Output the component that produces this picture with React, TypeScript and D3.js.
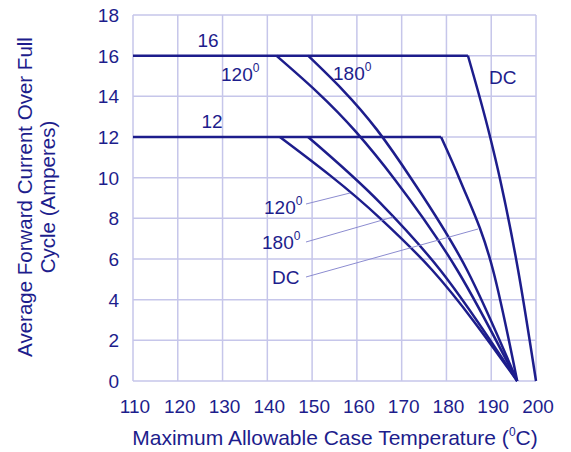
import * as d3 from "d3";

// chart values
const xTicks = [110, 120, 130, 140, 150, 160, 170, 180, 190, 200];
const yTicks = [0, 2, 4, 6, 8, 10, 12, 14, 16, 18];

// [temperature, amperes] along each falling part, starting at the knee
const a16_120 = [[142, 16], [159.8, 12.25], [168.5, 9.9], [182.4, 5.46], [195.8, 0]];
const a16_180 = [[149.1, 16], [164.5, 12.35], [172.3, 9.9], [184.6, 5.46], [195.8, 0]];
const a16_dc = [[184.8, 16], [189.7, 12.05], [192.0, 9.9], [196.0, 5.46], [200, 0]];
const a12_120 = [[142.8, 12], [165.2, 8.0], [176.8, 5.46], [195.8, 0]];
const a12_180 = [[149.1, 12], [165.2, 8.76], [178.6, 5.46], [195.8, 0]];
const a12_dc = [[178.8, 12], [183.0, 9.9], [190.4, 5.46], [195.8, 0]];

const curves = [a16_120, a16_180, a16_dc, a12_120, a12_180, a12_dc];

const W = 571;
const H = 452;
const navy = "#1d1d8c";
const grid = "#c6c6ea";
const font = "'Liberation Sans', Arial, sans-serif";
const fs = 19;

const x = d3.scaleLinear().domain([110, 200]).range([133, 536]);
const y = d3.scaleLinear().domain([0, 18]).range([381, 15]);

const line = d3
  .line<number[]>()
  .x((d) => x(d[0]))
  .y((d) => y(d[1]))
  .curve(d3.curveMonotoneX);

function Deg({ t, xx, yy }: { t: string; xx: number; yy: number }) {
  return (
    <text x={xx} y={yy} fill={navy} fontSize={fs} fontFamily={font}>
      {t}
      <tspan fontSize={12} dy={-9}>0</tspan>
    </text>
  );
}

export default function App() {
  return (
    <svg
      width={W}
      height={H}
      style={{ position: "absolute", left: 0, top: 0, background: "#fff" }}
    >
      {/* grid */}
      {xTicks.map((t) => (
        <line key={"gx" + t} x1={x(t)} x2={x(t)} y1={y(18)} y2={y(0)} stroke={grid} strokeWidth={1.5} />
      ))}
      {yTicks.map((t) => (
        <line key={"gy" + t} x1={x(110)} x2={x(200)} y1={y(t)} y2={y(t)} stroke={grid} strokeWidth={1.5} />
      ))}

      {/* tick labels */}
      {yTicks.map((t) => (
        <text key={"ty" + t} x={119} y={y(t) + 7} textAnchor="end" fill={navy} fontSize={fs} fontFamily={font}>
          {t}
        </text>
      ))}
      {xTicks.map((t) => (
        <text key={"tx" + t} x={x(t) + 2} y={413} textAnchor="middle" fill={navy} fontSize={fs} fontFamily={font}>
          {t}
        </text>
      ))}

      {/* axis titles */}
      <text x={335} y={445} textAnchor="middle" fill={navy} fontSize={21} fontFamily={font}>
        Maximum Allowable Case Temperature (
        <tspan fontSize={12} dy={-9}>0</tspan>
        <tspan dy={9}>C)</tspan>
      </text>
      <text
        transform="translate(32,197) rotate(-90)"
        textAnchor="middle"
        fill={navy}
        fontSize={20.5}
        fontFamily={font}
      >
        Average Forward Current Over Full
      </text>
      <text
        transform="translate(55,197) rotate(-90)"
        textAnchor="middle"
        fill={navy}
        fontSize={20.5}
        fontFamily={font}
      >
        Cycle (Amperes)
      </text>

      {/* flat parts */}
      <line x1={x(110)} x2={x(a16_dc[0][0])} y1={y(16)} y2={y(16)} stroke={navy} strokeWidth={2.5} />
      <line x1={x(110)} x2={x(a12_dc[0][0])} y1={y(12)} y2={y(12)} stroke={navy} strokeWidth={2.5} />

      {/* falling parts */}
      {curves.map((c, i) => (
        <path key={"c" + i} d={line(c as any) || ""} fill="none" stroke={navy} strokeWidth={2.5} />
      ))}

      {/* leader lines for the 12 A group */}
      <line x1={306} y1={204} x2={350} y2={193} stroke="#8c8cd0" strokeWidth={1} />
      <line x1={306} y1={242} x2={393} y2={217} stroke="#8c8cd0" strokeWidth={1} />
      <line x1={306} y1={277} x2={478} y2={229} stroke="#8c8cd0" strokeWidth={1} />

      {/* labels */}
      <text x={208} y={47} textAnchor="middle" fill={navy} fontSize={fs} fontFamily={font}>16</text>
      <text x={212} y={128} textAnchor="middle" fill={navy} fontSize={fs} fontFamily={font}>12</text>
      <Deg t="120" xx={221} yy={81} />
      <Deg t="180" xx={333} yy={80} />
      <text x={489} y={84} fill={navy} fontSize={fs} fontFamily={font}>DC</text>
      <Deg t="120" xx={264} yy={214} />
      <Deg t="180" xx={262} yy={249} />
      <text x={272} y={284} fill={navy} fontSize={fs} fontFamily={font}>DC</text>
    </svg>
  );
}
